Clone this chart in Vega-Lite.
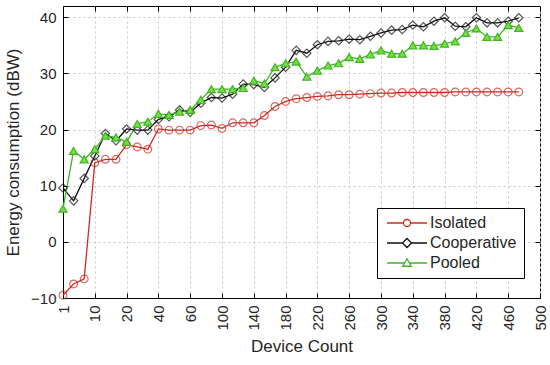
{
  "$schema": "https://vega.github.io/schema/vega-lite/v6.json",
  "width": 477,
  "height": 292,
  "autosize": {"type": "none"},
  "padding": {"left": 63, "top": 6, "right": 10, "bottom": 67},
  "background": "white",
  "config": {
    "font": "Liberation Sans",
    "view": {"stroke": "black", "strokeWidth": 1},
    "axis": {
      "labelFont": "Liberation Sans",
      "titleFont": "Liberation Sans",
      "labelFontSize": 15,
      "titleFontSize": 17,
      "titleFontWeight": "normal",
      "labelColor": "#262626",
      "titleColor": "#262626",
      "domainColor": "black",
      "tickColor": "black",
      "gridColor": "#c8c8c8",
      "gridDash": [2, 3],
      "gridWidth": 1
    },
    "legend": {
      "labelFont": "Liberation Sans",
      "labelFontSize": 16,
      "labelColor": "#262626"
    }
  },
  "data": {
    "values": [
      {"i": 1, "series": "Isolated", "v": -9.5},
      {"i": 2, "series": "Isolated", "v": -7.5},
      {"i": 3, "series": "Isolated", "v": -6.6},
      {"i": 4, "series": "Isolated", "v": 14.1},
      {"i": 5, "series": "Isolated", "v": 14.7},
      {"i": 6, "series": "Isolated", "v": 14.7},
      {"i": 7, "series": "Isolated", "v": 17.3},
      {"i": 8, "series": "Isolated", "v": 16.9},
      {"i": 9, "series": "Isolated", "v": 16.5},
      {"i": 10, "series": "Isolated", "v": 20.1},
      {"i": 11, "series": "Isolated", "v": 19.9},
      {"i": 12, "series": "Isolated", "v": 19.9},
      {"i": 13, "series": "Isolated", "v": 19.9},
      {"i": 14, "series": "Isolated", "v": 20.7},
      {"i": 15, "series": "Isolated", "v": 20.8},
      {"i": 16, "series": "Isolated", "v": 20.2},
      {"i": 17, "series": "Isolated", "v": 21.2},
      {"i": 18, "series": "Isolated", "v": 21.2},
      {"i": 19, "series": "Isolated", "v": 21.2},
      {"i": 20, "series": "Isolated", "v": 22.5},
      {"i": 21, "series": "Isolated", "v": 24.1},
      {"i": 22, "series": "Isolated", "v": 25.0},
      {"i": 23, "series": "Isolated", "v": 25.5},
      {"i": 24, "series": "Isolated", "v": 25.7},
      {"i": 25, "series": "Isolated", "v": 25.9},
      {"i": 26, "series": "Isolated", "v": 26.0},
      {"i": 27, "series": "Isolated", "v": 26.2},
      {"i": 28, "series": "Isolated", "v": 26.2},
      {"i": 29, "series": "Isolated", "v": 26.3},
      {"i": 30, "series": "Isolated", "v": 26.4},
      {"i": 31, "series": "Isolated", "v": 26.5},
      {"i": 32, "series": "Isolated", "v": 26.5},
      {"i": 33, "series": "Isolated", "v": 26.6},
      {"i": 34, "series": "Isolated", "v": 26.6},
      {"i": 35, "series": "Isolated", "v": 26.6},
      {"i": 36, "series": "Isolated", "v": 26.6},
      {"i": 37, "series": "Isolated", "v": 26.6},
      {"i": 38, "series": "Isolated", "v": 26.7},
      {"i": 39, "series": "Isolated", "v": 26.7},
      {"i": 40, "series": "Isolated", "v": 26.7},
      {"i": 41, "series": "Isolated", "v": 26.7},
      {"i": 42, "series": "Isolated", "v": 26.7},
      {"i": 43, "series": "Isolated", "v": 26.7},
      {"i": 44, "series": "Isolated", "v": 26.7},
      {"i": 1, "series": "Cooperative", "v": 9.6},
      {"i": 2, "series": "Cooperative", "v": 7.3},
      {"i": 3, "series": "Cooperative", "v": 11.3},
      {"i": 4, "series": "Cooperative", "v": 15.3},
      {"i": 5, "series": "Cooperative", "v": 19.3},
      {"i": 6, "series": "Cooperative", "v": 18.0},
      {"i": 7, "series": "Cooperative", "v": 20.1},
      {"i": 8, "series": "Cooperative", "v": 19.9},
      {"i": 9, "series": "Cooperative", "v": 19.9},
      {"i": 10, "series": "Cooperative", "v": 21.8},
      {"i": 11, "series": "Cooperative", "v": 22.3},
      {"i": 12, "series": "Cooperative", "v": 23.5},
      {"i": 13, "series": "Cooperative", "v": 23.1},
      {"i": 14, "series": "Cooperative", "v": 24.7},
      {"i": 15, "series": "Cooperative", "v": 25.7},
      {"i": 16, "series": "Cooperative", "v": 25.6},
      {"i": 17, "series": "Cooperative", "v": 26.3},
      {"i": 18, "series": "Cooperative", "v": 28.1},
      {"i": 19, "series": "Cooperative", "v": 28.0},
      {"i": 20, "series": "Cooperative", "v": 27.5},
      {"i": 21, "series": "Cooperative", "v": 29.2},
      {"i": 22, "series": "Cooperative", "v": 31.1},
      {"i": 23, "series": "Cooperative", "v": 34.1},
      {"i": 24, "series": "Cooperative", "v": 33.6},
      {"i": 25, "series": "Cooperative", "v": 35.1},
      {"i": 26, "series": "Cooperative", "v": 35.7},
      {"i": 27, "series": "Cooperative", "v": 35.8},
      {"i": 28, "series": "Cooperative", "v": 36.1},
      {"i": 29, "series": "Cooperative", "v": 36.0},
      {"i": 30, "series": "Cooperative", "v": 36.6},
      {"i": 31, "series": "Cooperative", "v": 37.2},
      {"i": 32, "series": "Cooperative", "v": 37.7},
      {"i": 33, "series": "Cooperative", "v": 37.8},
      {"i": 34, "series": "Cooperative", "v": 38.6},
      {"i": 35, "series": "Cooperative", "v": 38.3},
      {"i": 36, "series": "Cooperative", "v": 39.3},
      {"i": 37, "series": "Cooperative", "v": 39.9},
      {"i": 38, "series": "Cooperative", "v": 38.4},
      {"i": 39, "series": "Cooperative", "v": 38.3},
      {"i": 40, "series": "Cooperative", "v": 39.9},
      {"i": 41, "series": "Cooperative", "v": 39.0},
      {"i": 42, "series": "Cooperative", "v": 39.0},
      {"i": 43, "series": "Cooperative", "v": 39.3},
      {"i": 44, "series": "Cooperative", "v": 39.9},
      {"i": 1, "series": "Pooled", "v": 5.9},
      {"i": 2, "series": "Pooled", "v": 16.2},
      {"i": 3, "series": "Pooled", "v": 14.7},
      {"i": 4, "series": "Pooled", "v": 16.5},
      {"i": 5, "series": "Pooled", "v": 18.9},
      {"i": 6, "series": "Pooled", "v": 18.6},
      {"i": 7, "series": "Pooled", "v": 17.8},
      {"i": 8, "series": "Pooled", "v": 21.0},
      {"i": 9, "series": "Pooled", "v": 21.4},
      {"i": 10, "series": "Pooled", "v": 22.8},
      {"i": 11, "series": "Pooled", "v": 22.6},
      {"i": 12, "series": "Pooled", "v": 23.2},
      {"i": 13, "series": "Pooled", "v": 23.5},
      {"i": 14, "series": "Pooled", "v": 25.3},
      {"i": 15, "series": "Pooled", "v": 27.2},
      {"i": 16, "series": "Pooled", "v": 27.2},
      {"i": 17, "series": "Pooled", "v": 27.2},
      {"i": 18, "series": "Pooled", "v": 27.4},
      {"i": 19, "series": "Pooled", "v": 28.7},
      {"i": 20, "series": "Pooled", "v": 28.2},
      {"i": 21, "series": "Pooled", "v": 31.1},
      {"i": 22, "series": "Pooled", "v": 31.8},
      {"i": 23, "series": "Pooled", "v": 32.1},
      {"i": 24, "series": "Pooled", "v": 29.4},
      {"i": 25, "series": "Pooled", "v": 30.5},
      {"i": 26, "series": "Pooled", "v": 31.4},
      {"i": 27, "series": "Pooled", "v": 31.8},
      {"i": 28, "series": "Pooled", "v": 32.9},
      {"i": 29, "series": "Pooled", "v": 32.6},
      {"i": 30, "series": "Pooled", "v": 33.4},
      {"i": 31, "series": "Pooled", "v": 34.1},
      {"i": 32, "series": "Pooled", "v": 33.5},
      {"i": 33, "series": "Pooled", "v": 33.5},
      {"i": 34, "series": "Pooled", "v": 35.0},
      {"i": 35, "series": "Pooled", "v": 35.0},
      {"i": 36, "series": "Pooled", "v": 34.9},
      {"i": 37, "series": "Pooled", "v": 35.3},
      {"i": 38, "series": "Pooled", "v": 35.7},
      {"i": 39, "series": "Pooled", "v": 37.2},
      {"i": 40, "series": "Pooled", "v": 38.0},
      {"i": 41, "series": "Pooled", "v": 36.5},
      {"i": 42, "series": "Pooled", "v": 36.5},
      {"i": 43, "series": "Pooled", "v": 38.6},
      {"i": 44, "series": "Pooled", "v": 38.1}
    ]
  },
  "resolve": {"axis": {"x": "independent", "y": "independent"}},
  "layer": [
    {
      "mark": {"type": "point", "filled": false, "opacity": 0},
      "encoding": {
        "x": {
          "field": "i", "type": "quantitative",
          "scale": {"domain": [1, 46], "nice": false, "zero": false},
          "axis": {"orient": "top", "values": [1, 4, 7, 10, 13, 16, 19, 22, 25, 28, 31, 34, 37, 40, 43, 46], "labels": false, "tickSize": -5, "grid": false, "title": null, "domain": false}
        },
        "y": {
          "field": "v", "type": "quantitative",
          "scale": {"domain": [-10, 42], "nice": false, "zero": false},
          "axis": {"orient": "right", "values": [-10, 0, 10, 20, 30, 40], "labels": false, "tickSize": -5, "grid": false, "title": null, "domain": false}
        },
        "color": {
          "field": "series", "type": "nominal",
          "scale": {"domain": ["Isolated", "Cooperative", "Pooled"], "range": ["#cc2a22", "#111111", "#3fb524"]},
          "legend": {
            "title": null,
            "orient": "none",
            "legendX": 314,
            "legendY": 202,
            "direction": "vertical",
            "symbolOpacity": 1,
            "symbolSize": 100,
            "symbolOffset": 15,
            "symbolStrokeWidth": 1.3,
            "labelOffset": 15,
            "padding": 7,
            "rowPadding": 4,
            "strokeColor": "black",
            "fillColor": "white",
            "encode": {
              "symbols": {
                "update": {
                  "fill": {"signal": "datum.value === 'Pooled' ? '#77dd44' : 'transparent'"},
                  "opacity": {"value": 1}
                }
              }
            }
          }
        },
        "shape": {
          "field": "series", "type": "nominal",
          "scale": {
            "domain": ["Isolated", "Cooperative", "Pooled"],
            "range": [
              "M-4,0H-0.7M0.7,0H4M-0.7,0A0.7,0.7,0,1,0,0.7,0A0.7,0.7,0,1,0,-0.7,0Z",
              "M-4,0H-0.9M0.9,0H4M-0.9,0L0,-0.9L0.9,0L0,0.9Z",
              "M-4,0H-0.5M0.5,0H4M-0.85,0.65L0,-0.85L0.85,0.65Z"
            ]
          },
          "legend": {
            "title": null,
            "orient": "none",
            "legendX": 314,
            "legendY": 202,
            "symbolOpacity": 1,
            "symbolSize": 100
          }
        }
      }
    },
    {
      "mark": {"type": "line", "strokeWidth": 1.3},
      "encoding": {
        "x": {
          "field": "i", "type": "quantitative",
          "axis": {
            "title": "Device Count",
            "values": [1, 4, 7, 10, 13, 16, 19, 22, 25, 28, 31, 34, 37, 40, 43, 46],
            "labelExpr": "['1','10','20','40','60','100','140','180','220','260','300','340','380','420','460','500'][(datum.value-1)/3]",
            "labelAngle": 270,
            "labelAlign": "right",
            "labelBaseline": "middle",
            "tickSize": -5,
            "labelPadding": 12,
            "titlePadding": 8,
            "grid": true,
            "labelFlush": false,
            "labelOverlap": false
          }
        },
        "y": {
          "field": "v", "type": "quantitative",
          "axis": {
            "title": "Energy consumption (dBW)",
            "values": [-10, 0, 10, 20, 30, 40],
            "tickSize": -5,
            "labelPadding": 12,
            "titlePadding": 8,
            "grid": true,
            "labelFlush": false,
            "labelOverlap": false
          }
        },
        "color": {"field": "series", "type": "nominal"}
      }
    },
    {
      "transform": [{"filter": "datum.series === 'Isolated'"}],
      "mark": {"type": "point", "shape": "circle", "filled": false, "size": 60, "strokeWidth": 1.2},
      "encoding": {
        "x": {"field": "i", "type": "quantitative", "axis": null},
        "y": {"field": "v", "type": "quantitative", "axis": null},
        "color": {"field": "series", "type": "nominal"}
      }
    },
    {
      "transform": [{"filter": "datum.series === 'Cooperative'"}],
      "mark": {"type": "point", "shape": "diamond", "filled": false, "size": 70, "strokeWidth": 1.2},
      "encoding": {
        "x": {"field": "i", "type": "quantitative", "axis": null},
        "y": {"field": "v", "type": "quantitative", "axis": null},
        "color": {"field": "series", "type": "nominal"}
      }
    },
    {
      "transform": [{"filter": "datum.series === 'Pooled'"}],
      "mark": {"type": "point", "shape": "triangle-up", "filled": false, "fill": "#77dd44", "fillOpacity": 1, "size": 65, "strokeWidth": 1.2},
      "encoding": {
        "x": {"field": "i", "type": "quantitative", "axis": null},
        "y": {"field": "v", "type": "quantitative", "axis": null},
        "color": {"field": "series", "type": "nominal"}
      }
    }
  ]
}
